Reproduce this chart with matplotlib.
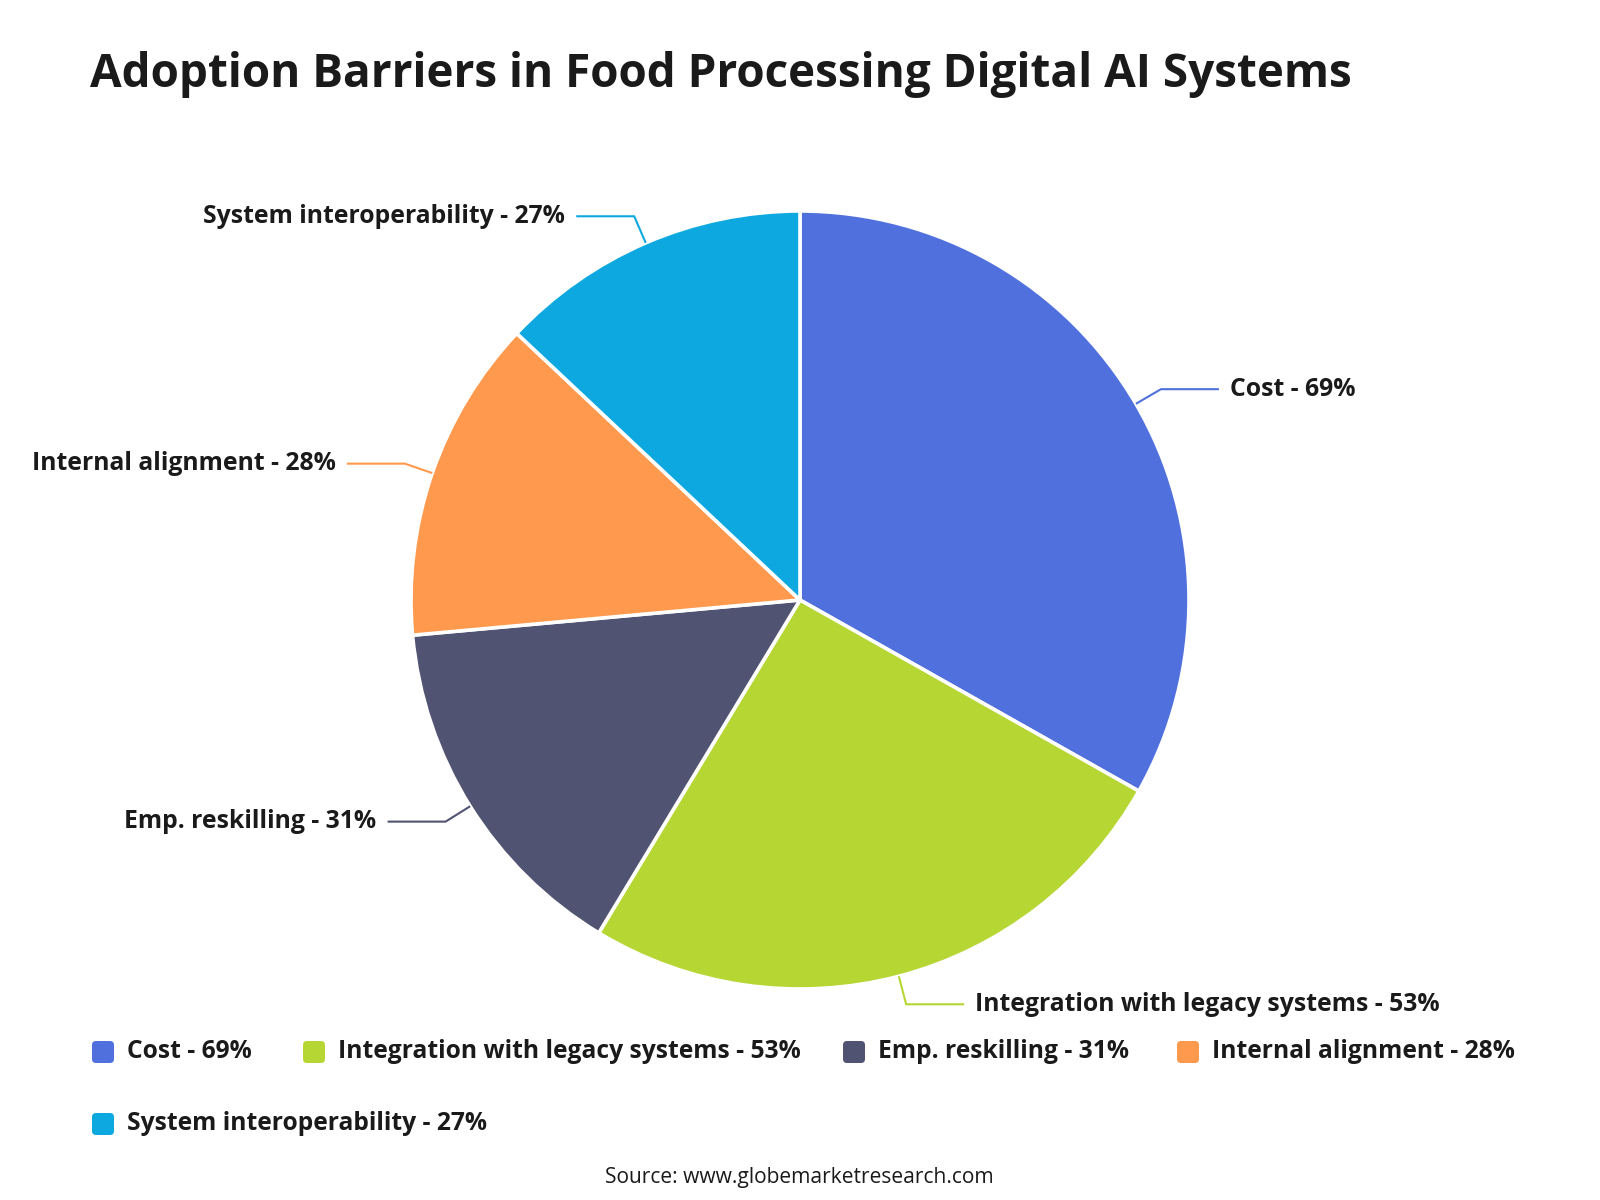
import numpy as np
import matplotlib
matplotlib.use("Agg")
import matplotlib.pyplot as plt
from matplotlib.patches import FancyBboxPatch

categories = ["Cost", "Integration with legacy systems", "Emp. reskilling",
              "Internal alignment", "System interoperability"]
values = [69, 53, 31, 28, 27]
colors = ["#5070dd", "#b6d634", "#505372", "#ff994d", "#0ca8df"]
title = "Adoption Barriers in Food Processing Digital AI Systems"
source = "Source: www.globemarketresearch.com"

FONT = "Open Sans"
W, H = 1600, 1200
fig = plt.figure(figsize=(16, 12), dpi=100)
ax = fig.add_axes([0, 0, 1, 1])

cx, cy, R = 800, H - 600, 389
ax.pie(values, colors=colors, startangle=90, counterclock=False,
       center=(cx, cy), radius=R, frame=True,
       wedgeprops=dict(edgecolor="white", linewidth=2.6, joinstyle="round"))
ax.set_xlim(0, W)
ax.set_ylim(0, H)
ax.set_aspect("equal")
ax.axis("off")

labels = [f"{c} - {v}%" for c, v in zip(categories, values)]
total = sum(values)
cum = np.cumsum([0] + values)
for i, (lab, col) in enumerate(zip(labels, colors)):
    mid = (cum[i] + cum[i + 1]) / 2 / total * 2 * np.pi
    sx, sy = np.sin(mid), np.cos(mid)
    x0, y0 = cx + R * sx, cy + R * sy
    x1, y1 = cx + (R + 29) * sx, cy + (R + 29) * sy
    side = 1 if sx > 0 else -1
    x2 = x1 + side * 58
    ax.plot([x0, x1, x2], [y0, y1, y1], color=col, lw=1.5, solid_capstyle="butt")
    ax.text(x2 + side * 11, y1, lab, ha="left" if side > 0 else "right",
            va="center", fontsize=17.8, fontweight="bold", color="#1a1a1a",
            family=FONT)

ax.text(90, H - 75, title, ha="left", va="center", fontsize=33,
        fontweight="bold", color="#1a1a1a", family=FONT)

# legend
leg_pos = [(92, 1052), (303, 1052), (843, 1052), (1177, 1052), (92, 1124)]
for (lx, ly), lab, col in zip(leg_pos, labels, colors):
    y = H - ly
    ax.add_patch(FancyBboxPatch((lx + 3, y - 8), 16, 16,
                                boxstyle="round,pad=3,rounding_size=4",
                                fc=col, ec="none"))
    ax.text(lx + 35, y, lab, ha="left", va="center", fontsize=17.7,
            fontweight="bold", color="#1a1a1a", family=FONT)

ax.text(799, H - 1177, source, ha="center", va="center", fontsize=15.1,
        color="#1a1a1a", family=FONT)

fig.savefig("out.png", dpi=100, facecolor="white")
